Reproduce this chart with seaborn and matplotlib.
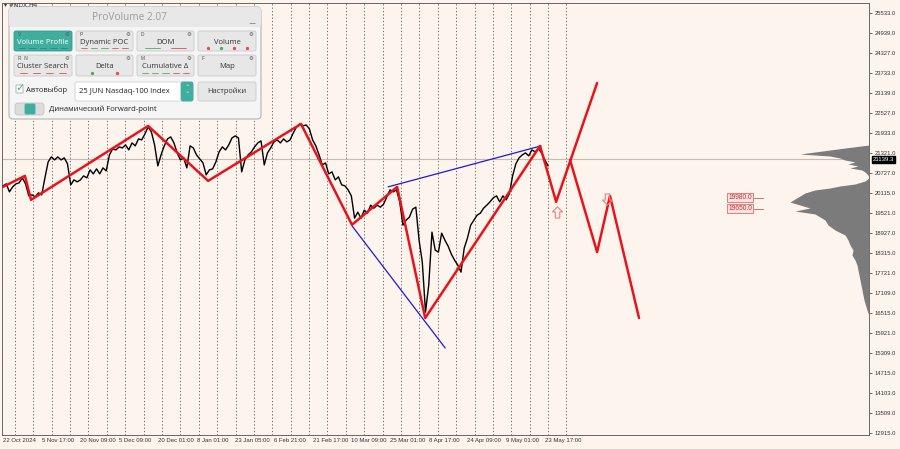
import numpy as np
import matplotlib.pyplot as plt
import seaborn as sns
from matplotlib.patches import FancyBboxPatch
from matplotlib.path import Path

sns.set_theme(style='white')
plt.rcParams['font.family'] = ['Liberation Sans', 'DejaVu Sans']

bg = '#fdf4ee'
teal = '#3fae9f'

# #NDX close, one value every 20 H1 bars (label step = 12 values)
nasdaq_close = [
    20340, 20400, 20160, 20310, 20400, 20430, 20580, 20400, 20040, 20070,
    20010, 20130, 20070, 20580, 21060, 21210, 21120, 21210, 21120, 21180,
    21000, 20370, 20520, 20460, 20520, 20640, 20580, 20820, 20700, 20850,
    20700, 20880, 20790, 21270, 21450, 21420, 21510, 21480, 21570, 21420,
    21630, 21540, 21750, 21720, 21900, 22110, 21960, 21570, 20940, 21270,
    21540, 21750, 21810, 21630, 21330, 21120, 21180, 20880, 21540, 21480,
    21270, 21150, 21030, 20670, 20820, 20850, 21060, 21360, 21510, 21420,
    21570, 21780, 21840, 21780, 20760, 21120, 21270, 21360, 21510, 21630,
    21690, 20970, 21330, 21480, 21660, 21720, 21630, 21750, 21660, 21720,
    21930, 22110, 22200, 22140, 22170, 22050, 21720, 21540, 21270, 20970,
    21030, 20700, 20760, 20520, 20610, 20370, 20340, 20220, 20040, 19370,
    19550, 19370, 19610, 19520, 19760, 19670, 19760, 19700, 19790, 20010,
    20220, 20160, 20220, 19860, 19160, 19310, 19400, 19640, 19700, 18710,
    18050, 16550, 17360, 18950, 18410, 18350, 18920, 18710, 18530, 18290,
    18110, 17960, 17750, 18470, 18770, 19160, 19310, 19460, 19520, 19670,
    19760, 19860, 19980, 20040, 19860, 20040, 19920, 20100, 20640, 21000,
    21180, 21270, 21330, 21240, 21420, 21360, 21450, 21330, 21120, 20940,
]
bars = np.arange(len(nasdaq_close))

date_labels = ['22 Oct 2024', '5 Nov 17:00', '20 Nov 09:00', '5 Dec 09:00', '20 Dec 01:00',
               '8 Jan 01:00', '23 Jan 05:00', '6 Feb 21:00', '21 Feb 17:00', '10 Mar 09:00',
               '25 Mar 01:00', '8 Apr 17:00', '24 Apr 09:00', '9 May 01:00', '23 May 17:00']
price_ticks = [25533, 24939, 24327, 23733, 23139, 22527, 21933, 21321, 20727, 20115, 19521,
               18927, 18315, 17721, 17109, 16515, 15921, 15309, 14715, 14103, 13509, 12915]

# wave markup
zigzag_bar = [0, 6.8, 8.7, 45, 63.6, 92.4, 108.2, 122.2, 130.9, 166.5, 171.5, 184.2]
zigzag_price = [20310, 20640, 19920, 22140, 20490, 22200, 19170, 20310, 16370, 21540, 19860, 23430]
alt_bar = [175.8, 184.2, 188.2, 197.2]
alt_price = [21120, 18350, 20040, 16370]
upper_bar = [119.4, 166.8]
upper_price = [20310, 21540]
lower_bar = [108.2, 137.1]
lower_price = [19140, 15470]
arrow_up = (171.8, 19560)
arrow_down = (187.3, 19940)

current_price = 21139.3
levels = [19980.0, 19650.0]

# volume profile (relative volume per price level)
profile_price = [21567, 21477, 21417, 21357, 21297, 21237, 21177, 21117, 21057, 20997,
                 20937, 20877, 20816, 20756, 20666, 20576, 20486, 20396, 20336, 20276,
                 20216, 20126, 20036, 19946, 19855, 19765, 19675, 19585, 19495, 19405,
                 19315, 19165, 19014, 18864, 18714, 18564, 18413, 18263, 18113, 17963,
                 17812, 17512, 17212, 16911, 16611, 16431]
profile_volume = [0, 24, 39, 54, 69, 39, 29, 24, 14, 21, 11, 19, 7, 4, 1, 0, 4, 14, 29, 39,
                  54, 64, 69, 74, 79, 69, 59, 74, 54, 49, 44, 41, 34, 24, 21, 19, 16, 17, 14, 12,
                  11, 9, 7, 5, 2, 0]

fig = plt.figure(figsize=(9, 4.49), dpi=100, facecolor=bg)
ax = fig.add_axes([2 / 900, 14 / 449, 867 / 900, 432 / 449])
ax.set_facecolor(bg)
ax.set_xlim(-0.31, 268.5)
ax.set_ylim(12856, 25833)

# weekly separators
for b in np.arange(3.7, 176, 5.7):
    ax.axvline(b, color='#555555', ls=(0, (1.5, 2.5)), lw=0.6, zorder=1)
ax.axhline(current_price, color='#c9bab2', lw=0.8, zorder=1)

sns.lineplot(x=bars, y=nasdaq_close, ax=ax, color='black', lw=1.0, estimator=None, zorder=3)
sns.lineplot(x=upper_bar, y=upper_price, ax=ax, color='#1c1ccc', lw=0.9, sort=False, zorder=4)
sns.lineplot(x=lower_bar, y=lower_price, ax=ax, color='#1c1ccc', lw=0.9, sort=False, zorder=4)
sns.lineplot(x=zigzag_bar, y=zigzag_price, ax=ax, color='#e8141a', lw=1.8, sort=False, zorder=5)
sns.lineplot(x=alt_bar, y=alt_price, ax=ax, color='#e8141a', lw=1.8, sort=False, zorder=5)

# hollow signal arrows
up_shape = Path([(0, 1), (0.9, 0.1), (0.4, 0.1), (0.4, -1), (-0.4, -1), (-0.4, 0.1),
                 (-0.9, 0.1), (0, 1)], closed=True)
down_shape = Path([(x, -y) for x, y in up_shape.vertices], closed=True)
ax.plot(*arrow_up, marker=up_shape, ms=8, mfc='none', mec='#f07f7f', mew=0.8, zorder=6)
ax.plot(*arrow_down, marker=down_shape, ms=8, mfc='none', mec='#f07f7f', mew=0.8, zorder=6)

for lvl in levels:
    ax.text(228.5, lvl, f'{lvl:.1f}', fontsize=4.8, color='#c03030', ha='center', va='center',
            bbox=dict(boxstyle='square,pad=0.15', fc='#fbe3e1', ec='#e06a6a', lw=0.6), zorder=6)
    ax.plot([232.8, 235.6], [lvl, lvl], color='#e06a6a', lw=0.7, zorder=6)

ax.set_xticks(np.arange(0, 12 * len(date_labels), 12))
ax.set_xticklabels(date_labels, ha='left')
ax.yaxis.tick_right()
ax.set_yticks(price_ticks)
ax.set_yticklabels([f'{v:.1f}' for v in price_ticks])
ax.tick_params(axis='x', length=0, labelsize=4.3, labelcolor='#333333', pad=2.5)
ax.tick_params(axis='y', length=2.5, width=0.6, color='#555555', labelsize=4.2,
               labelcolor='#333333', pad=1.5, right=True)
for s in ax.spines.values():
    s.set_color('#666666')
    s.set_linewidth(0.7)

# volume profile on the right edge
axv = ax.twiny()
axv.fill_betweenx(profile_price, 0, profile_volume, color='#7b7b7b', lw=0, zorder=2)
axv.set_xlim(867, 0)
axv.set_xticks([])
axv.patch.set_alpha(0)
for s in axv.spines.values():
    s.set_visible(False)

ax.annotate(f'{current_price:.1f}', xy=(1.004, current_price), xycoords=('axes fraction', 'data'),
            fontsize=4.3, color='white', va='center', ha='left', annotation_clip=False,
            bbox=dict(boxstyle='square,pad=0.15', fc='black', ec='black'))

# ProVolume panel overlay
ui = fig.add_axes([0, 0, 1, 1], zorder=10)
ui.set_xlim(0, 900)
ui.set_ylim(449, 0)
ui.axis('off')
ui.patch.set_alpha(0)
ui.text(4, 5.5, '\u25be #NDX,H4', fontsize=4.3, color='#333333', va='center', family='DejaVu Sans')


def box(x0, y0, x1, y1, face, edge='#c6c6c6', r=2.0, lw=0.6):
    ui.add_patch(FancyBboxPatch((x0, y0), x1 - x0, y1 - y0,
                                boxstyle=f'round,pad=0,rounding_size={r}', fc=face, ec=edge, lw=lw))


box(9, 7, 261, 119, '#f5f5f5', edge='#b5b5b5', r=4, lw=0.8)
box(9, 7, 261, 27, '#e8e8e8', edge='#e8e8e8', r=3, lw=0.1)
ui.text(129, 17, 'ProVolume 2.07', fontsize=7.3, color='#9c9c9c', ha='center', va='center',
        family='Open Sans')
ui.text(252, 19, '_', fontsize=7, color='#777777', ha='center', va='center')

buttons = [
    (14, 31, 72, 51, 'Volume Profile', 'V', ['#2c8a7d'] * 5, True),
    (76, 31, 133, 51, 'Dynamic POC', 'P', ['#e05050', '#4caf50', '#4caf50', '#e05050', '#e05050'], False),
    (137, 31, 194, 51, 'DOM', 'D', ['#4caf50', '#e05050'], False),
    (198, 31, 256, 51, 'Volume', '', ['dot#e05050', 'dot#4caf50', 'dot#e05050', 'dot#e05050'], False),
    (14, 55, 72, 76, 'Cluster Search', 'R  N', ['#e05050'] * 4, False),
    (76, 55, 133, 76, 'Delta', '', ['dot#4caf50', 'dot#e05050'], False),
    (137, 55, 194, 76, 'Cumulative \u0394', 'M', ['#4caf50', '#4caf50', '#4caf50', '#e05050', '#e05050'], False),
    (198, 55, 256, 76, 'Map', 'F', [], False),
]
for x0, y0, x1, y1, name, tag, marks, active in buttons:
    box(x0, y0, x1, y1, teal if active else '#e7e7e7', edge='#2f9c8e' if active else '#c9c9c9')
    ui.text((x0 + x1) / 2, y0 + 11.5, name, fontsize=5.5, ha='center', va='center',
            color='white' if active else '#333333', family='Open Sans')
    if tag:
        ui.text(x0 + 4, y0 + 3.6, tag, fontsize=3.5, color='#555555', va='center')
    ui.text(x1 - 5, y0 + 3.6, '\u2699', fontsize=4, color='#555555', ha='center', va='center',
            family='DejaVu Sans')
    n = len(marks)
    for i, m in enumerate(marks):
        seg = (x1 - x0 - 6) / n
        cx = x0 + 3 + seg * (i + 0.5)
        if m.startswith('dot'):
            ui.plot(cx, y1 - 3.5, 'o', ms=1.4, color=m[3:])
        else:
            ui.plot([cx - seg * 0.3, cx + seg * 0.3], [y1 - 3.5, y1 - 3.5], color=m, lw=0.6)

# checkbox, instrument selector, settings
box(16, 85, 23, 93, 'white', edge='#9a9a9a', r=0.5, lw=0.5)
ui.text(19.8, 88, '\u2713', fontsize=8, color=teal, ha='center', va='center', family='DejaVu Sans')
ui.text(26, 90, 'Автовыбор', fontsize=5.5, color='#222222', va='center', family='Open Sans')
box(75, 82, 193, 101, 'white', edge='#cfcfcf')
box(181, 82, 193, 101, teal, edge=teal)
ui.text(79, 91.5, '25 JUN Nasdaq-100 Index', fontsize=5.5, color='#222222', va='center',
        family='Open Sans')
ui.text(187, 88.5, '\u02c4', fontsize=5, color='white', ha='center', va='center', family='DejaVu Sans')
ui.text(187, 95, '\u02c5', fontsize=5, color='white', ha='center', va='center', family='DejaVu Sans')
box(198, 82, 256, 101, '#e7e7e7', edge='#c9c9c9')
ui.text(227, 91.5, 'Настройки', fontsize=5.4, color='#333333', ha='center', va='center',
        family='Open Sans')
box(15, 103, 44, 115, '#dcdcdc', edge='#c4c4c4', r=3)
box(25, 104, 35, 114, teal, edge=teal, r=1)
ui.text(49, 109, 'Динамический Forward-point', fontsize=5.5, color='#222222', va='center',
        family='Open Sans')

fig.savefig('out.png', dpi=100, facecolor=bg)
